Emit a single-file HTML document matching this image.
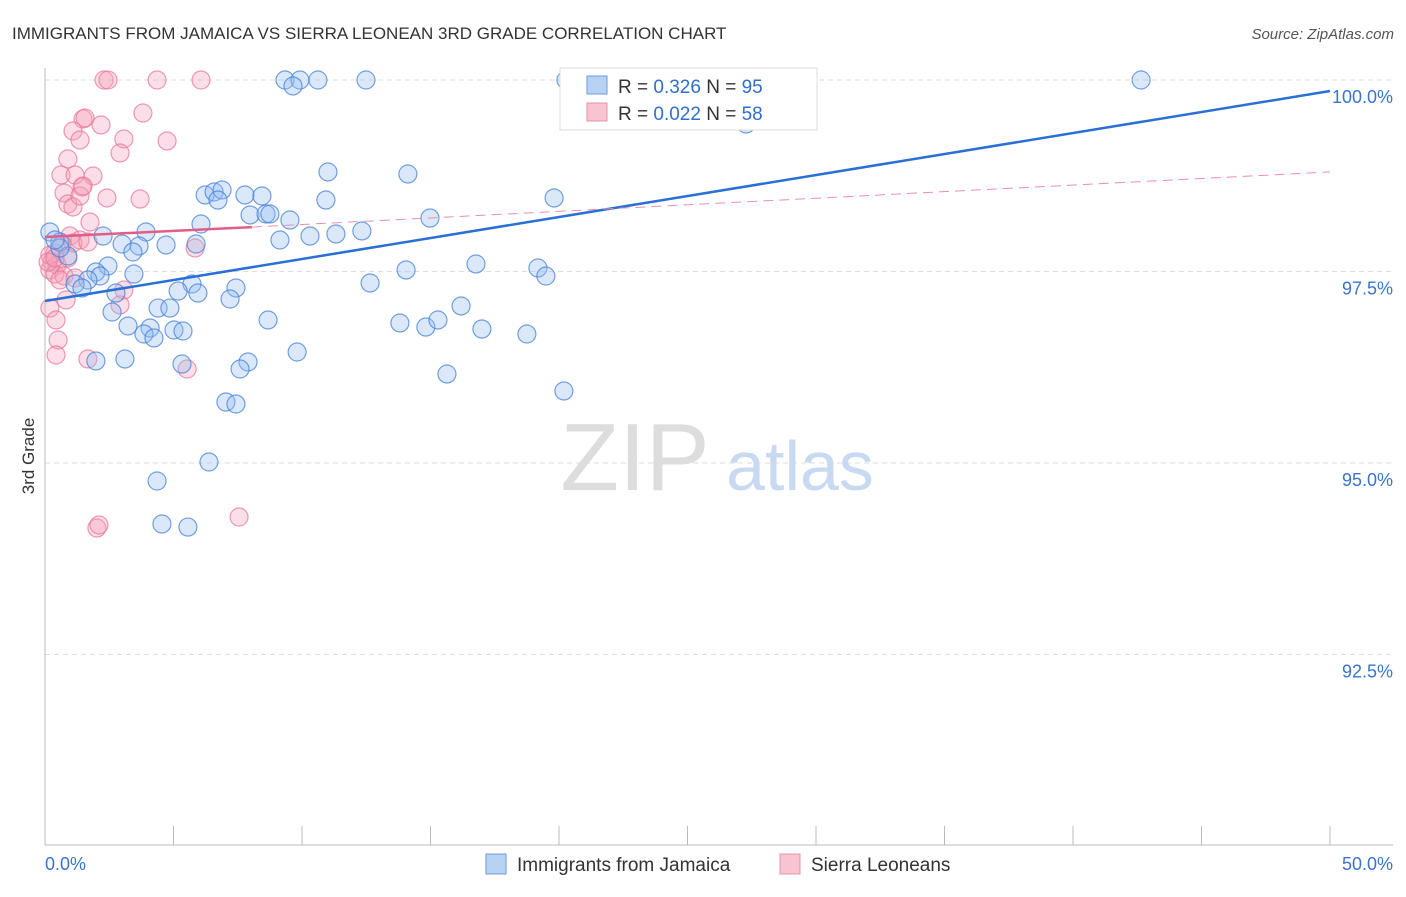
<!DOCTYPE html>
<html><head><meta charset="utf-8"><style>
body{margin:0;background:#fff;font-family:"Liberation Sans",sans-serif}
svg text{font-family:"Liberation Sans",sans-serif}
</style></head><body>
<svg id="chart" width="1406" height="892">
<text x="12" y="39" font-size="17" fill="#333">IMMIGRANTS FROM JAMAICA VS SIERRA LEONEAN 3RD GRADE CORRELATION CHART</text>
<text x="1394" y="39" font-size="15" fill="#555" text-anchor="end" font-style="italic">Source: ZipAtlas.com</text>
<text transform="translate(34,456) rotate(-90)" font-size="17" fill="#333" text-anchor="middle">3rd Grade</text>
<g id="grid"></g>
<g><text x="635" y="490" font-size="96" fill="#ddd" font-family="Liberation Serif" text-anchor="middle">ZIP</text><text x="800" y="490" font-size="70" fill="#c8daf2" text-anchor="middle">atlas</text></g>
<g id="axes"></g>
<g id="pts"></g>
<g id="lines"></g>
<g>
<rect x="560" y="68" width="257" height="62" fill="#fff" stroke="#ddd"/>
<rect x="587" y="76" width="20" height="18" fill="#b8d2f4" stroke="#6a9ce0"/>
<text x="618" y="93" font-size="19" fill="#333">R = <tspan fill="#2f6fd0">0.326</tspan>   N = <tspan fill="#2f6fd0">95</tspan></text>
<rect x="587" y="103" width="20" height="18" fill="#f8c4d2" stroke="#e890aa"/>
<text x="618" y="120" font-size="19" fill="#333">R = <tspan fill="#2f6fd0">0.022</tspan>   N = <tspan fill="#2f6fd0">58</tspan></text>
</g>
<g>
<rect x="486" y="854" width="20" height="20" fill="#b8d2f4" stroke="#6a9ce0"/>
<text x="517" y="871" font-size="19" fill="#333">Immigrants from Jamaica</text>
<rect x="780" y="854" width="20" height="20" fill="#f8c4d2" stroke="#e890aa"/>
<text x="811" y="871" font-size="19" fill="#333">Sierra Leoneans</text>
</g>
</svg>
<script>
const xTickLabels=["0.0%","50.0%"];
const yTicks=[100,97.5,95,92.5];
const yTickLabels=["100.0%","97.5%","95.0%","92.5%"];
const bluePx=[[285,80],[300,80],[318,80],[366,80],[293,86],[566,80],[706,80],[1141,80],[746,124],[328,172],[408,174],[205,195],[214,192],[222,190],[218,200],[245,195],[262,196],[326,200],[554,198],[250,215],[266,214],[270,214],[290,220],[430,218],[201,224],[146,232],[103,236],[122,244],[139,246],[166,245],[196,244],[280,240],[310,236],[336,234],[362,231],[50,232],[60,242],[68,256],[133,252],[108,266],[96,272],[100,276],[134,274],[88,280],[75,284],[82,288],[476,264],[406,270],[538,268],[546,276],[192,284],[178,291],[198,293],[236,288],[116,293],[370,283],[230,299],[158,308],[170,308],[112,312],[268,320],[128,326],[150,328],[144,334],[154,338],[174,330],[183,331],[400,323],[426,327],[438,320],[461,306],[482,329],[527,334],[297,352],[125,359],[96,361],[182,364],[248,362],[240,369],[447,374],[564,391],[226,402],[236,404],[209,462],[157,481],[162,524],[188,527],[60,248],[55,240]];
const pinkPx=[[104,80],[108,80],[157,80],[201,80],[83,119],[85,118],[143,113],[73,131],[101,125],[80,140],[124,139],[167,141],[120,153],[68,159],[61,175],[75,175],[93,176],[82,187],[64,193],[107,198],[68,204],[73,207],[80,196],[83,186],[90,222],[140,199],[70,236],[80,240],[73,243],[88,242],[62,244],[195,248],[55,253],[68,258],[52,262],[57,265],[50,270],[55,274],[64,276],[60,280],[75,278],[124,290],[120,305],[50,308],[56,320],[66,300],[58,340],[56,355],[88,359],[187,369],[97,528],[99,525],[239,517],[50,255],[48,262],[55,258]];
// data values (x in %, y in %) derived from estimates
const blueX=bluePx.map(p=>+((p[0]-45)/1285*50).toFixed(2));
const blueY=bluePx.map(p=>+(100-(p[1]-80)/76.6).toFixed(3));
const pinkX=pinkPx.map(p=>+((p[0]-45)/1285*50).toFixed(2));
const pinkY=pinkPx.map(p=>+(100-(p[1]-80)/76.6).toFixed(3));
const blueTrend=[[0,97.115],[50,99.856]];
const pinkTrend=[[0,97.95],[8.05,98.08],[50,98.80]];

const X=v=>45+v/50*1285, Y=v=>80+(100-v)*76.6;
const NS="http://www.w3.org/2000/svg";
function mk(tag,attrs,parent){const e=document.createElementNS(NS,tag);for(const k in attrs)e.setAttribute(k,attrs[k]);parent.appendChild(e);return e;}
const grid=document.getElementById('grid'),axes=document.getElementById('axes');
yTicks.forEach((t,i)=>{
 const l=mk('line',{x1:45,x2:1393,y1:Y(t),y2:Y(t),stroke:'#ddd','stroke-dasharray':'5,4'},grid);
 
 
 const tx=mk('text',{x:1393,y:Y(t)+23,'font-size':18,fill:'#3a74d0','text-anchor':'end'},grid);
 tx.textContent=yTickLabels[i];
 
 
});
mk('line',{x1:45,x2:45,y1:68,y2:845,stroke:'#bbb'},axes);
mk('line',{x1:45,x2:1393,y1:845,y2:845,stroke:'#bbb'},axes);
for(let i=0;i<=10;i++){mk('line',{x1:X(i*5),x2:X(i*5),y1:826,y2:845,stroke:'#bbb'},axes);}
const xl0=mk('text',{x:45,y:870,'font-size':18,fill:'#3a74d0'},axes);xl0.textContent=xTickLabels[0];


const xl1=mk('text',{x:1393,y:870,'font-size':18,fill:'#3a74d0','text-anchor':'end'},axes);xl1.textContent=xTickLabels[1];


const pts=document.getElementById('pts');
pinkX.forEach((x,i)=>{const c=mk('circle',{cx:X(x),cy:Y(pinkY[i]),r:9,fill:'rgba(244,160,185,0.35)',stroke:'rgba(232,120,155,0.75)','stroke-width':1.2},pts);
 
 });
blueX.forEach((x,i)=>{const c=mk('circle',{cx:X(x),cy:Y(blueY[i]),r:9,fill:'rgba(150,190,240,0.35)',stroke:'rgba(70,130,215,0.75)','stroke-width':1.2},pts);
 
 });
const lines=document.getElementById('lines');
const bl=mk('line',{x1:X(blueTrend[0][0]),y1:Y(blueTrend[0][1]),x2:X(blueTrend[1][0]),y2:Y(blueTrend[1][1]),stroke:'#2a6fd6','stroke-width':2.5},lines);


const pl=mk('line',{x1:X(pinkTrend[0][0]),y1:Y(pinkTrend[0][1]),x2:X(pinkTrend[1][0]),y2:Y(pinkTrend[1][1]),stroke:'#e45c88','stroke-width':2.5},lines);


const pd=mk('line',{x1:X(pinkTrend[1][0]),y1:Y(pinkTrend[1][1]),x2:X(pinkTrend[2][0]),y2:Y(pinkTrend[2][1]),stroke:'#e890aa','stroke-width':1,'stroke-dasharray':'10,6'},lines);


</script>
</body></html>
